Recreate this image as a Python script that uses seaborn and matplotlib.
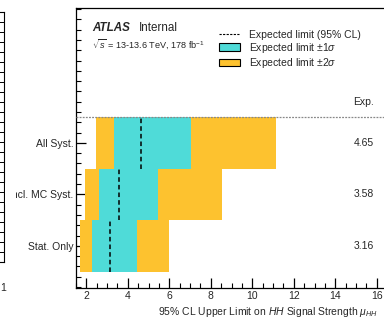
"""
HH signal strength expected upper limits - systematics breakdown
"""

import numpy as np
import matplotlib
matplotlib.use("Agg")
import matplotlib.pyplot as plt
from matplotlib.lines import Line2D
from matplotlib.patches import Patch, Rectangle
from matplotlib.ticker import MultipleLocator
import seaborn as sns

# rows, bottom to top
rows = ["Stat. Only", "Incl. MC Syst.", "All Syst."]
exp_limit = [3.16, 3.58, 4.65]
minus2 = [1.70, 1.94, 2.47]
minus1 = [2.28, 2.59, 3.34]
plus1 = [4.43, 5.43, 7.05]
plus2 = [5.98, 8.55, 11.13]
xticks = [2, 4, 6, 8, 10, 12, 14, 16]

CYAN = "#4fdbd8"
YELLOW = "#fdc22f"
W, H = 384, 318

sns.set_style("ticks")
plt.rcParams["font.family"] = ["Liberation Sans", "DejaVu Sans"]
plt.rcParams["mathtext.fontset"] = "custom"
plt.rcParams["mathtext.rm"] = "Liberation Sans"
plt.rcParams["mathtext.it"] = "Liberation Sans:italic"
plt.rcParams["mathtext.bf"] = "Liberation Sans:bold"

fig = plt.figure(figsize=(W / 100, H / 100), dpi=100)
fig.patch.set_facecolor("white")


def px(x, y):
    """pixel position -> figure fraction"""
    return x / W, 1 - y / H


# main axes, right part runs past the crop
ax = fig.add_axes([76 / W, 1 - 288 / H, 321.6 / W, 280 / H])
ax.set_facecolor("white")

ypos = np.arange(len(rows))
lo2, hi2 = np.array(minus2), np.array(plus2)
lo1, hi1 = np.array(minus1), np.array(plus1)
ax.barh(ypos, hi2 - lo2, left=lo2, height=1.0, color=YELLOW, lw=0, zorder=1)
ax.barh(ypos, hi1 - lo1, left=lo1, height=1.0, color=CYAN, lw=0, zorder=2)
ax.vlines(exp_limit, ypos - 0.5, ypos + 0.5, colors="black",
          linestyles=(0, (3, 2)), lw=1.1, zorder=3)

ax.axhline(2.5, color="#888888", lw=0.9, ls=(0, (1.5, 1)), zorder=4)

for y, v in zip(ypos, exp_limit):
    ax.text(15.85, y, f"{v:.2f}", ha="right", va="center", fontsize=7.5)
ax.text(15.85, 2.8, "Exp.", ha="right", va="center", fontsize=7.5)

ax.set_xlim(1.5, 17)
ax.set_ylim(-0.82, 4.62)
ax.set_xticks(xticks)
ax.set_xticklabels([str(t) for t in xticks])
ax.xaxis.set_minor_locator(MultipleLocator(0.5))
ax.set_yticks(ypos)
ax.set_yticklabels(rows)
ax.yaxis.set_minor_locator(MultipleLocator(0.2))
ax.tick_params(axis="both", which="major", direction="in", length=7,
               width=0.9, labelsize=7.5, pad=2, color="black")
ax.tick_params(axis="both", which="minor", direction="in", length=3.5,
               width=0.8, color="black")
for s in ax.spines.values():
    s.set_color("black")
    s.set_linewidth(0.9)

ax.set_xlabel("95% CL Upper Limit on $HH$ Signal Strength $\\mu_{HH}$",
              fontsize=7.5, ha="left")
ax.xaxis.set_label_coords((158 - 76) / 321.6, -(312 - 288) / 280)
ax.xaxis.label.set_va("center")

# labels
fig.text(*px(92.7, 30.7), "ATLAS", fontsize=8.4, fontweight="bold",
         fontstyle="italic", va="baseline")
fig.text(*px(139.3, 30.7), "Internal", fontsize=8.4, va="baseline")
fig.text(*px(92, 48), r"$\sqrt{s}$ = 13-13.6 TeV, 178 fb$^{-1}$",
         fontsize=6.6, va="baseline")

handles = [
    Line2D([], [], color="black", ls=(0, (2, 1.2)), lw=0.8),
    Patch(facecolor=CYAN, edgecolor="black", lw=0.8),
    Patch(facecolor=YELLOW, edgecolor="black", lw=0.8),
]
labels = ["Expected limit (95% CL)", "Expected limit $\\pm 1\\sigma$",
          "Expected limit $\\pm 2\\sigma$"]
fig.legend(handles, labels, loc="upper left", bbox_to_anchor=px(218.5, 29.5),
           frameon=False, fontsize=7.5, borderpad=0, borderaxespad=0,
           handlelength=2.1, handletextpad=0.85, labelspacing=0.12)

# neighbouring panel, cut by the crop
axl = fig.add_axes([-0.3, 1 - 262 / H, 0.3 + 4 / W, (262 - 11.5) / H])
axl.set_facecolor("white")
axl.set_xlim(0, 1)
axl.set_ylim(0, 25)
axl.set_xticks([])
axl.yaxis.tick_right()
axl.set_yticks(np.arange(1, 25))
axl.set_yticklabels([])
axl.tick_params(axis="y", direction="in", length=4, width=0.7, color="black")
for s in axl.spines.values():
    s.set_color("black")
    s.set_linewidth(0.8)
fig.text(*px(0, 288), "1", fontsize=7.5, va="center", ha="left")

# pad boundary clips the long row label
fig.patches.append(Rectangle(px(5, 205), 10.5 / W, 22 / H,
                             transform=fig.transFigure, facecolor="white",
                             edgecolor="none", zorder=5))

fig.savefig("out.png", dpi=100)
